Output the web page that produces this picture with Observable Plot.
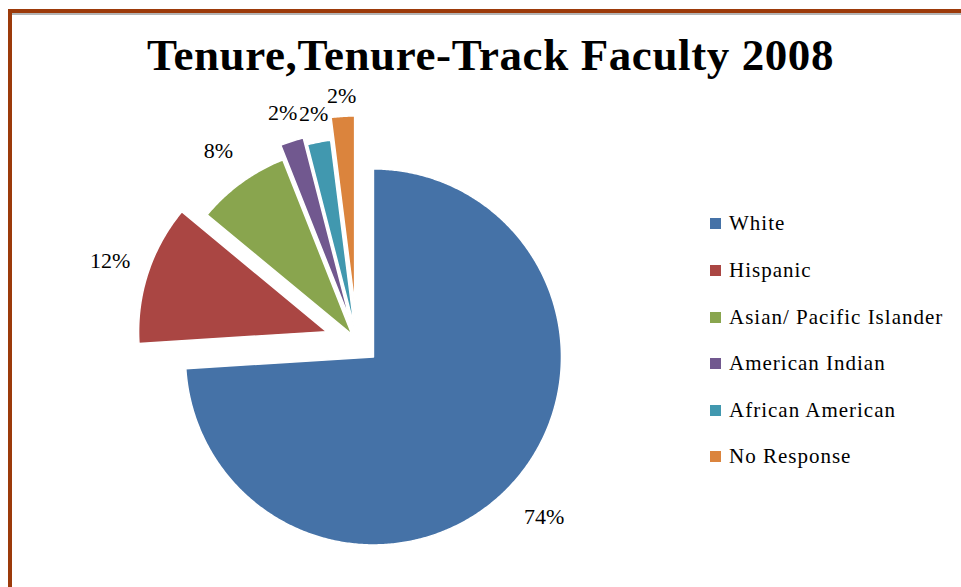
<!DOCTYPE html>
<html>
<head>
<meta charset="utf-8">
<script src="https://cdn.jsdelivr.net/npm/d3@7"></script>
<script src="https://cdn.jsdelivr.net/npm/@observablehq/plot@0.6"></script>
<style>
  html, body { margin: 0; padding: 0; background: #fff; }
  #frame { position: relative; width: 961px; height: 587px; overflow: hidden; background: #fff; }
  #topbar { position: absolute; left: 8px; top: 9px; width: 953px; height: 4px; background: #9C3A0A; }
  #topshadow { position: absolute; left: 12px; top: 13px; width: 949px; height: 2px; background: #B4B4B4; }
  #leftbar { position: absolute; left: 8px; top: 9px; width: 4px; height: 578px; background: #9C3A0A; }
  #title { position: absolute; left: 10px; top: 36px; width: 961px; text-align: center;
           font-family: "Liberation Serif", serif; font-weight: bold; font-size: 45px; line-height: 38px;
           letter-spacing: 0.6px; color: #000; white-space: nowrap; }
  #chart { position: absolute; left: 0; top: 78px; }
  #legend { position: absolute; left: 710px; top: 200.7px; font-family: "Liberation Serif", serif; font-size: 21px; letter-spacing: 1px; color: #000; }
  .row { display: flex; align-items: center; height: 46.6px; white-space: nowrap; }
  .sw { width: 11px; height: 11px; margin-right: 8px; flex: none; }
</style>
</head>
<body>
<div id="frame">
  <div id="title"></div>
  <div id="chart"></div>
  <div id="legend"></div>
  <div id="topbar"></div>
  <div id="topshadow"></div>
  <div id="leftbar"></div>
</div>
<script>
// ---- data ----
const titleText = "Tenure,Tenure-Track Faculty 2008";
const categories = ["White", "Hispanic", "Asian/ Pacific Islander", "American Indian", "African American", "No Response"];
const values = [74, 12, 8, 2, 2, 2];
const labels = ["74%", "12%", "8%", "2%", "2%", "2%"];
const colors = ["#4572A7", "#AA4643", "#89A54E", "#71588F", "#4198AF", "#DB843D"];
// explosion of each slice (fraction of radius) and label distance (fraction of radius)
const explode = [0.12, 0.17, 0.045, 0.12, 0.08, 0.2];
const labelDist = [1.245, 1.21, 1.21, 1.16, 1.15, 1.11];

// ---- layout ----
const W = 961, H = 509;
const R = 188;          // pie radius in px
const cx = 356.5, cy = 263; // pie centre inside the svg

document.getElementById("title").textContent = titleText;

const total = d3.sum(values);
let cum = 0;
const slices = [];
const labelData = [];
values.forEach((v, i) => {
  const a0 = cum / total * 2 * Math.PI;
  cum += v;
  const a1 = cum / total * 2 * Math.PI;
  const m = (a0 + a1) / 2;
  const ox = explode[i] * Math.sin(m), oy = explode[i] * Math.cos(m);
  const pts = [{x: ox, y: oy}];
  const n = Math.max(2, Math.ceil((a1 - a0) / (Math.PI / 360)));
  for (let k = 0; k <= n; k++) {
    const a = a0 + (a1 - a0) * k / n;
    pts.push({x: ox + Math.sin(a), y: oy + Math.cos(a)});
  }
  pts.push({x: ox, y: oy});
  slices.push({cat: categories[i], color: colors[i], pts});
  labelData.push({text: labels[i], x: ox + labelDist[i] * Math.sin(m), y: oy + labelDist[i] * Math.cos(m)});
});

const plot = Plot.plot({
  width: W,
  height: H,
  margin: 0,
  style: {background: "transparent", overflow: "visible"},
  x: {domain: [-cx / R, (W - cx) / R], axis: null},
  y: {domain: [-(H - cy) / R, cy / R], axis: null},
  marks: [
    ...slices.map(s => Plot.line(s.pts, {x: "x", y: "y", fill: s.color, stroke: "white", strokeWidth: 1.5, curve: "linear"})),
    Plot.text(labelData, {x: "x", y: "y", text: "text", fontSize: 22, fontFamily: "Liberation Serif", fill: "#000", letterSpacing: 1, textAnchor: "middle"})
  ]
});
document.getElementById("chart").appendChild(plot);

const legend = document.getElementById("legend");
categories.forEach((c, i) => {
  const row = document.createElement("div");
  row.className = "row";
  const sw = document.createElement("span");
  sw.className = "sw";
  sw.style.background = colors[i];
  const t = document.createElement("span");
  t.textContent = c;
  row.appendChild(sw);
  row.appendChild(t);
  legend.appendChild(row);
});
</script>
</body>
</html>
